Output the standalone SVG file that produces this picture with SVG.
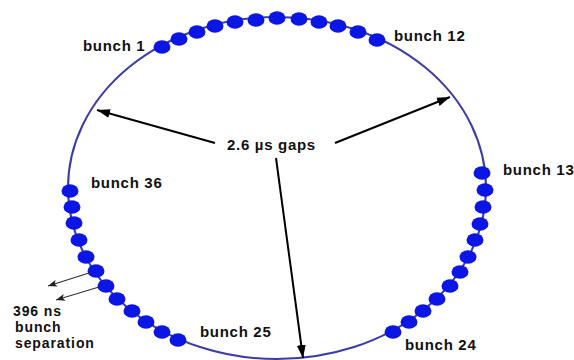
<svg xmlns="http://www.w3.org/2000/svg" width="574" height="360" viewBox="0 0 574 360">
<defs>
<style>
.ring{fill:none;stroke:#3c3ca8;stroke-width:2}
.b{fill:#0b16e4}
.t{font-family:"Liberation Sans",Arial,sans-serif;font-weight:bold;font-size:15px;letter-spacing:0.7px;fill:#111}
.s{font-size:14px;letter-spacing:0.9px}
.gap{stroke:#000;stroke-width:2;fill:none}
.sep{stroke:#333;stroke-width:1.3;fill:none}
</style>
<marker id="ah" markerUnits="userSpaceOnUse" markerWidth="14" markerHeight="10" refX="13" refY="5" orient="auto">
<path d="M0,0.5 L13,5 L0,9.5 z" fill="#000"/>
</marker>
<marker id="as" markerUnits="userSpaceOnUse" markerWidth="10" markerHeight="8" refX="9" refY="4" orient="auto">
<path d="M0,0.5 L9,4 L0,7.5 L2,4 z" fill="#222"/>
</marker>
<ellipse id="dot" rx="8.5" ry="6.8"/>
</defs>
<rect width="574" height="360" fill="#fff"/>
<g id="ring"><ellipse class="ring" cx="277" cy="188" rx="209" ry="171"/></g>
<g id="train1" class="b">
<use href="#dot" x="162" y="47"/><use href="#dot" x="179" y="39"/><use href="#dot" x="197" y="32"/><use href="#dot" x="215" y="26"/><use href="#dot" x="235" y="22"/><use href="#dot" x="256" y="20"/><use href="#dot" x="277" y="18"/><use href="#dot" x="299" y="19"/><use href="#dot" x="319" y="22"/><use href="#dot" x="338" y="26"/><use href="#dot" x="358" y="32"/><use href="#dot" x="377" y="40"/>
</g>
<g id="train2" class="b">
<use href="#dot" x="482" y="173"/><use href="#dot" x="485" y="190"/><use href="#dot" x="483" y="207"/><use href="#dot" x="480" y="224"/><use href="#dot" x="475" y="240"/><use href="#dot" x="468" y="257"/><use href="#dot" x="460" y="272"/><use href="#dot" x="450" y="286"/><use href="#dot" x="437" y="299"/><use href="#dot" x="423" y="311"/><use href="#dot" x="409" y="322"/><use href="#dot" x="393" y="332"/>
</g>
<g id="train3" class="b">
<use href="#dot" x="178" y="340"/><use href="#dot" x="162" y="332"/><use href="#dot" x="146" y="322"/><use href="#dot" x="132" y="311"/><use href="#dot" x="117" y="299"/><use href="#dot" x="106" y="286"/><use href="#dot" x="96" y="271"/><use href="#dot" x="86" y="257"/><use href="#dot" x="79" y="240"/><use href="#dot" x="74" y="223"/><use href="#dot" x="72" y="207"/><use href="#dot" x="70" y="191"/>
</g>
<g id="connectors">
<line class="gap" x1="215" y1="143" x2="97" y2="110" marker-end="url(#ah)"/>
<line class="gap" x1="335" y1="143" x2="450" y2="97" marker-end="url(#ah)"/>
<line class="gap" x1="276" y1="158" x2="303" y2="358" marker-end="url(#ah)"/>
<line class="sep" x1="89" y1="273" x2="48" y2="286" marker-end="url(#as)"/>
<line class="sep" x1="99" y1="287" x2="56" y2="300" marker-end="url(#as)"/>
</g>
<g id="labels">
<text id="l1" class="t" x="83" y="51">bunch 1</text>
<text id="l12" class="t" x="394" y="41">bunch 12</text>
<text id="l13" class="t" x="503" y="175">bunch 13</text>
<text id="l24" class="t" x="405" y="350">bunch 24</text>
<text id="l25" class="t" x="200" y="337">bunch 25</text>
<text id="l36" class="t" x="91" y="188">bunch 36</text>
<text id="lgap" class="t" x="227" y="150">2.6 µs gaps</text>
<text id="lsep" class="t s"><tspan x="13" y="316">396 ns</tspan><tspan x="15" y="332">bunch</tspan><tspan x="15" y="348">separation</tspan></text>
</g>
</svg>
